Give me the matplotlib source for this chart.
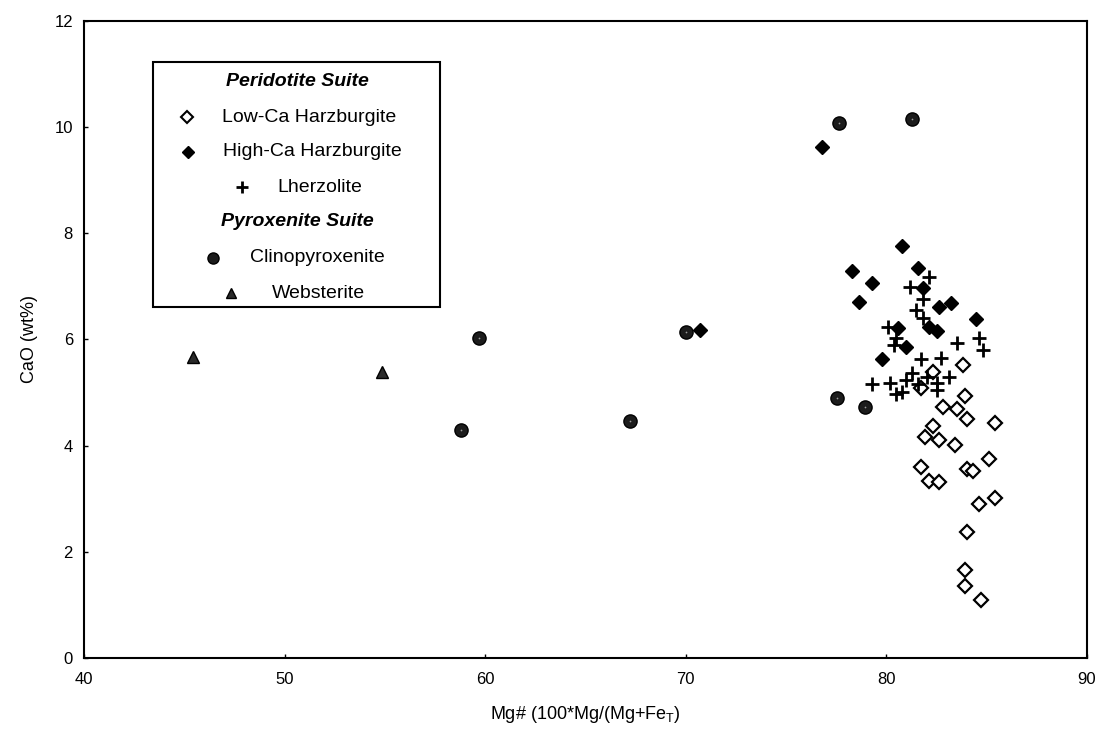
import matplotlib
matplotlib.use("Agg")
import matplotlib.pyplot as plt
from matplotlib.patches import Rectangle

plt.rcParams["font.family"] = ["Liberation Sans", "DejaVu Sans"]

# ---- data (Mg#, CaO wt%) ----
low_ca_mg = [82.3, 83.8, 81.7, 83.9, 82.8, 83.5, 84.0, 85.4, 82.3, 81.9, 82.6, 83.4,
             85.1, 84.0, 84.3, 81.7, 82.1, 82.6, 85.4, 84.6, 84.0, 83.9, 83.9, 84.7]
low_ca_cao = [5.39, 5.52, 5.08, 4.93, 4.72, 4.68, 4.50, 4.43, 4.37, 4.16, 4.11, 4.01,
              3.75, 3.55, 3.53, 3.59, 3.34, 3.32, 3.01, 2.90, 2.38, 1.66, 1.36, 1.09]

high_ca_mg = [76.8, 80.8, 78.3, 81.6, 79.3, 81.8, 78.65, 82.6, 83.2, 84.45, 82.1, 82.5,
              80.6, 81.0, 79.8, 70.7]
high_ca_cao = [9.63, 7.76, 7.29, 7.35, 7.06, 6.97, 6.71, 6.60, 6.69, 6.39, 6.23, 6.16,
               6.21, 5.86, 5.63, 6.18]

lherz_mg = [82.1, 81.2, 81.8, 81.5, 81.8, 80.1, 80.5, 80.4, 84.6, 84.8, 83.5, 81.7,
            82.7, 79.3, 80.2, 80.5, 80.8, 81.0, 81.3, 82.5, 83.1, 82.5, 81.6, 82.0]
lherz_cao = [7.17, 6.99, 6.76, 6.55, 6.40, 6.23, 6.02, 5.89, 6.02, 5.80, 5.94, 5.63,
             5.64, 5.16, 5.18, 4.97, 5.00, 5.24, 5.37, 5.17, 5.29, 5.05, 5.15, 5.30]

cpx_mg = [77.65, 81.3, 59.7, 58.8, 67.2, 70.0, 77.55, 78.95]
cpx_cao = [10.08, 10.15, 6.02, 4.29, 4.47, 6.13, 4.90, 4.72]

web_mg = [45.45, 54.85]
web_cao = [5.66, 5.39]

x_ticks = [40, 50, 60, 70, 80, 90]
y_ticks = [0, 2, 4, 6, 8, 10, 12]

W, H = 1097, 735
fig = plt.figure(figsize=(W / 100, H / 100), dpi=100)
ax = fig.add_axes([84 / W, 1 - 658 / H, (1087 - 84) / W, (658 - 20.7) / H])

ax.plot(low_ca_mg, low_ca_cao, "D", ms=7.5, mfc="white", mec="black", mew=1.6, ls="none")
ax.plot(high_ca_mg, high_ca_cao, "D", ms=6.8, mfc="black", mec="black", ls="none")
ax.plot(lherz_mg, lherz_cao, "+", ms=10, mec="black", mew=2.0, ls="none")
ax.plot(cpx_mg, cpx_cao, "o", ms=9.5, mfc="#1c1c1c", mec="black", mew=1, ls="none")
ax.plot(cpx_mg, cpx_cao, ".", ms=2.5, mfc="#9a9a9a", mec="none", ls="none")
ax.plot(web_mg, web_cao, "^", ms=9, mfc="#2a2a2a", mec="black", mew=1, ls="none")

ax.set_xlim(40, 90)
ax.set_ylim(0, 12)
ax.set_xticks(x_ticks)
ax.set_yticks(y_ticks)
ax.tick_params(direction="in", length=3, width=1, labelsize=12)
ax.tick_params(axis="x", pad=10)
ax.tick_params(axis="y", pad=8)
for s in ax.spines.values():
    s.set_linewidth(1.5)

ax.set_xlabel("Mg# (100*Mg/(Mg+Fe$_\\mathregular{T}$)", fontsize=13, labelpad=12)
ax.set_ylabel("CaO (wt%)", fontsize=13, labelpad=12)


# ---- hand-built legend (figure pixel coords) ----
def fx(x):
    return x / W


def fy(y):
    return 1 - y / H


tf = fig.transFigure
fig.add_artist(Rectangle((fx(153), fy(306.5)), fx(440) - fx(153), fy(62) - fy(306.5),
                         transform=tf, fill=False, lw=1.5, ec="black"))
fs = 14
fig.text(fx(297), fy(82), "Peridotite Suite", fontsize=fs, fontweight="bold",
         fontstyle="italic", ha="center", va="center")
fig.text(fx(297), fy(222), "Pyroxenite Suite", fontsize=fs, fontweight="bold",
         fontstyle="italic", ha="center", va="center")

rows = [
    (187, 117, 222, "Low-Ca Harzburgite", dict(marker="D", ms=6.5, mfc="white", mec="black", mew=1.5)),
    (188, 152, 223, "High-Ca Harzburgite", dict(marker="D", ms=6.5, mfc="black", mec="black")),
    (242, 187, 277, "Lherzolite", dict(marker="+", ms=9, mec="black", mew=2)),
    (213, 258, 250, "Clinopyroxenite", dict(marker="o", ms=8, mfc="#1c1c1c", mec="black")),
    (231, 293, 272, "Websterite", dict(marker="^", ms=7.5, mfc="#2a2a2a", mec="black")),
]
for mx, y, tx, label, style in rows:
    fig.add_artist(plt.Line2D([fx(mx)], [fy(y)], transform=tf, ls="none", **style))
    fig.text(fx(tx), fy(y), label, fontsize=fs, ha="left", va="center")

fig.savefig("out.png", dpi=100)
